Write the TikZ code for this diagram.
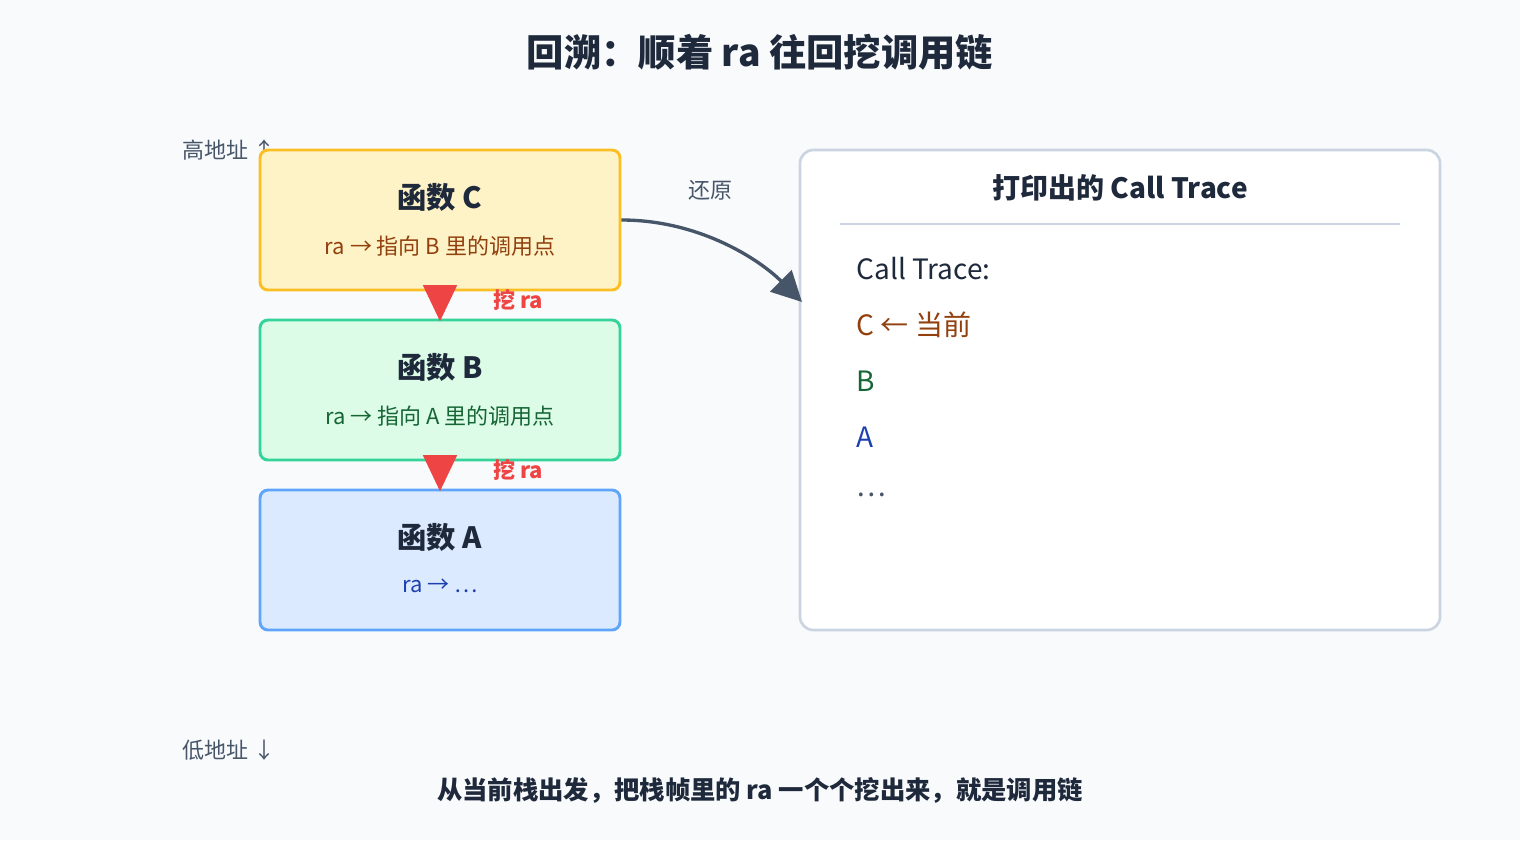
\documentclass[tikz,border=0pt]{standalone}
\usepackage{fontspec}
\setmainfont{Noto Sans CJK SC}
\usetikzlibrary{arrows.meta}
\definecolor{bg}{HTML}{F8FAFC}
\definecolor{ink}{HTML}{1E293B}
\definecolor{gray}{HTML}{475569}
\definecolor{cf}{HTML}{FEF3C7}\definecolor{cs}{HTML}{FBBF24}\definecolor{ct}{HTML}{92400E}
\definecolor{bf}{HTML}{DCFCE7}\definecolor{bs}{HTML}{34D399}\definecolor{bt}{HTML}{166534}
\definecolor{af}{HTML}{DBEAFE}\definecolor{as}{HTML}{60A5FA}\definecolor{at}{HTML}{1E40AF}
\definecolor{red}{HTML}{EF4444}
\definecolor{pan}{HTML}{CBD5E1}
\begin{document}
\begin{tikzpicture}[x=0.75pt,y=-0.75pt,
  box/.style={draw,line width=2.2pt,rounded corners=6pt,minimum width=360*0.75pt,minimum height=140*0.75pt,inner sep=0pt},
  ttl/.style={font=\fontsize{22}{26}\selectfont\bfseries,text=ink},
  sub/.style={font=\fontsize{16.5}{20}\selectfont},
  lbl/.style={font=\fontsize{16.5}{20}\selectfont,text=gray},
  dig/.style={red,line width=1pt,-{Triangle[length=36pt*0.75,width=34pt*0.75]},shorten >=-2pt},
  dl/.style={font=\fontsize{16.5}{20}\selectfont\bfseries,text=red},
  tr/.style={font=\fontsize{21}{24}\selectfont,anchor=west}]
\fill[bg] (0,0) rectangle (1520,840);
\useasboundingbox (0,0) rectangle (1520,840);
\node[ttl,font=\fontsize{28}{32}\selectfont\bfseries] (title) at (760,52) {回溯：顺着 ra 往回挖调用链};
\node[lbl,anchor=west] (hi) at (178,150) {高地址 ↑};
\node[lbl,anchor=west] (lo) at (178,750) {低地址 ↓};
\node[box,draw=cs,fill=cf] (C) at (440,220) {};
\node[ttl] (Ct) at (440,197) {函数 C};
\node[sub,text=ct] (Cs) at (440,246) {ra → 指向 B 里的调用点};
\node[box,draw=bs,fill=bf] (B) at (440,390) {};
\node[ttl] (Bt) at (440,367) {函数 B};
\node[sub,text=bt] (Bs) at (440,416) {ra → 指向 A 里的调用点};
\node[box,draw=as,fill=af] (A) at (440,560) {};
\node[ttl] (At) at (440,537) {函数 A};
\node[sub,text=at] (As) at (440,586) {ra → …};
\draw[dig] (C.south) -- (B.north);
\draw[dig] (B.south) -- (A.north);
\node[dl] (d1) at (518,300) {挖 ra};
\node[dl] (d2) at (518,470) {挖 ra};
\node[draw=pan,line width=2pt,fill=white,rounded corners=10pt,minimum width=640*0.75pt,minimum height=480*0.75pt] (P) at (1120,390) {};
\node[ttl,font=\fontsize{21}{24}\selectfont\bfseries] (Pt) at (1120,188) {打印出的 Call Trace};
\coordinate (l1) at (840,224); \coordinate (l2) at (1400,224);
\draw[pan,line width=0.8pt] (l1) -- (l2);
\node[tr,text=ink] (t0) at (852,269) {Call Trace:};
\node[tr,text=ct] (t1) at (852,325) {C ← 当前};
\node[tr,text=bt] (t2) at (852,381) {B};
\node[tr,text=at] (t3) at (852,437) {A};
\node[tr,text=gray] (t4) at (852,495) {…};
\coordinate (pe) at (802,302);
\draw[gray,line width=2.5pt,-{Triangle[length=30pt*0.75,width=30pt*0.75]}] (C.east) .. controls (700,220) and (760,260) .. (pe);
\node[lbl] (re) at (710,190) {还原};
\node[ttl,font=\fontsize{19}{22}\selectfont\bfseries] (cap) at (760,790) {从当前栈出发，把栈帧里的 ra 一个个挖出来，就是调用链};
\end{tikzpicture}
\end{document}
